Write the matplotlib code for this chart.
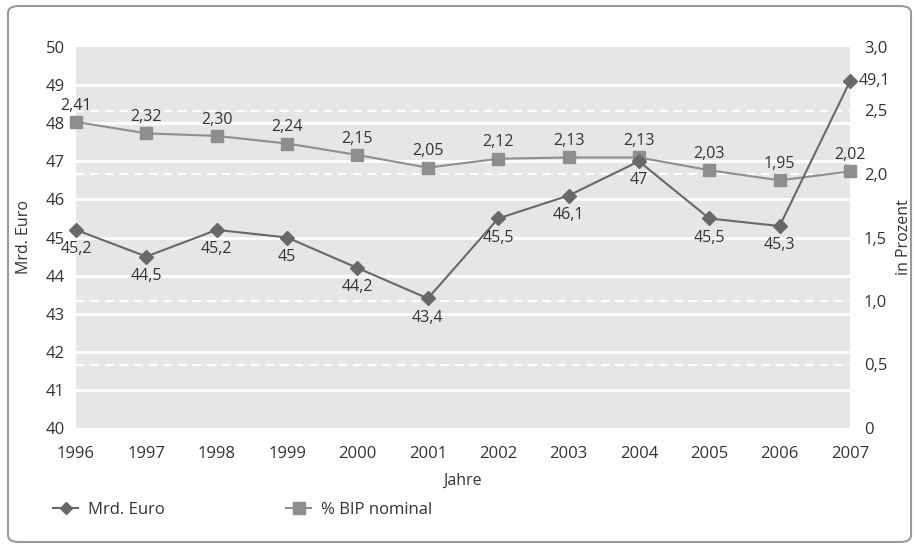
#!/usr/bin/env python3

import matplotlib
matplotlib.use("Agg")
import matplotlib.pyplot as plt
import matplotlib.transforms as mtransforms
from matplotlib.patches import FancyBboxPatch
from matplotlib.lines import Line2D

plt.rcParams["font.family"] = ["Open Sans", "DejaVu Sans"]

years = [1996, 1997, 1998, 1999, 2000, 2001, 2002, 2003, 2004, 2005, 2006, 2007]
mrd_euro = [45.2, 44.5, 45.2, 45.0, 44.2, 43.4, 45.5, 46.1, 47.0, 45.5, 45.3, 49.1]
bip_pct = [2.41, 2.32, 2.30, 2.24, 2.15, 2.05, 2.12, 2.13, 2.13, 2.03, 1.95, 2.02]
mrd_labels = ["45,2", "44,5", "45,2", "45", "44,2", "43,4", "45,5", "46,1", "47", "45,5", "45,3", "49,1"]
pct_labels = ["2,41", "2,32", "2,30", "2,24", "2,15", "2,05", "2,12", "2,13", "2,13", "2,03", "1,95", "2,02"]
left_ticks = [40, 41, 42, 43, 44, 45, 46, 47, 48, 49, 50]
right_ticks = [0, 0.5, 1.0, 1.5, 2.0, 2.5, 3.0]
right_tick_labels = ["0", "0,5", "1,0", "1,5", "2,0", "2,5", "3,0"]

dark = "#686868"
light = "#8e8e8e"
text_col = "#333333"

fig = plt.figure(figsize=(9.15, 5.5), dpi=100)
frame = FancyBboxPatch((8 / 915, 8 / 550), 903 / 915, 536 / 550,
                       boxstyle="round,pad=0,rounding_size=0.012",
                       transform=fig.transFigure, fill=False,
                       edgecolor="#9a9a9a", linewidth=1.5)
fig.patches.append(frame)

ax = fig.add_axes([76 / 915, 122 / 550, 774 / 915, 381 / 550])
ax2 = ax.twinx()

ax.set_facecolor("#e6e6e6")
ax.set_xlim(1996, 2007)
ax.set_ylim(40, 50)
ax.set_yticks(left_ticks)
ax.set_xticks(years)
ax2.set_ylim(0, 3.0)
ax2.set_yticks(right_ticks)
ax2.set_yticklabels(right_tick_labels)
for a in (ax, ax2):
    for s in a.spines.values():
        s.set_visible(False)
ax.tick_params(length=0, labelsize=12, colors=text_col)
ax.tick_params(axis="y", pad=8)
ax.tick_params(axis="x", pad=13)
ax2.tick_params(length=0, labelsize=12, colors=text_col, pad=10)

# everything is drawn on ax, the right scale comes from ax2
ax.set_zorder(ax2.get_zorder() + 1)
ax2.patch.set_visible(False)
pct_trans = ax2.transData
dash_trans = mtransforms.blended_transform_factory(ax.transAxes, ax2.transData)

for v in left_ticks[1:-1]:
    ax.axhline(v, color="white", linewidth=2, zorder=1)
for v in [0.5, 1.0, 2.0, 2.5]:
    ax.plot([0, 1], [v, v], transform=dash_trans, color="white",
            linewidth=1.5, linestyle=(0, (4, 3)), zorder=1)

ax.plot(years, bip_pct, transform=pct_trans, color=light, linewidth=1.5,
        marker="s", markersize=9, clip_on=False, zorder=3)
ax.plot(years, mrd_euro, color=dark, linewidth=1.5, marker="D", markersize=7,
        clip_on=False, zorder=4)
ax.set_ylim(40, 50)
ax.set_xlim(1996, 2007)

for x, y, t in zip(years, bip_pct, pct_labels):
    ax.annotate(t, (x, y), xycoords=pct_trans, xytext=(0, 6),
                textcoords="offset points", ha="center", va="bottom",
                fontsize=11.5, color=text_col, zorder=5)
for i, (x, y, t) in enumerate(zip(years, mrd_euro, mrd_labels)):
    if i == len(years) - 1:
        ax.annotate(t, (x, y), xytext=(6, 0), textcoords="offset points",
                    ha="left", va="center", fontsize=11.5, color=text_col,
                    zorder=5)
    else:
        ax.annotate(t, (x, y), xytext=(0, -8), textcoords="offset points",
                    ha="center", va="top", fontsize=11.5, color=text_col,
                    zorder=5)

ax.set_xlabel("Jahre", fontsize=11.5, color=text_col, labelpad=8)
ax.set_ylabel("Mrd. Euro", fontsize=11.5, color=text_col, labelpad=10)
ax2.set_ylabel("in Prozent", fontsize=11.5, color=text_col, labelpad=6)

handles = [
    Line2D([], [], color=dark, marker="D", markersize=6, linewidth=1.5),
    Line2D([], [], color=light, marker="s", markersize=8, linewidth=1.5),
]
fig.legend(handles, ["Mrd. Euro", "% BIP nominal"], loc="center left",
           bbox_to_anchor=(53 / 915, 1 - 510 / 550), ncol=2, frameon=False,
           fontsize=12, handlelength=1.5, handletextpad=0.6,
           borderpad=0, borderaxespad=0, columnspacing=7.3,
           labelcolor=text_col)

plt.savefig("out.png", dpi=100)
